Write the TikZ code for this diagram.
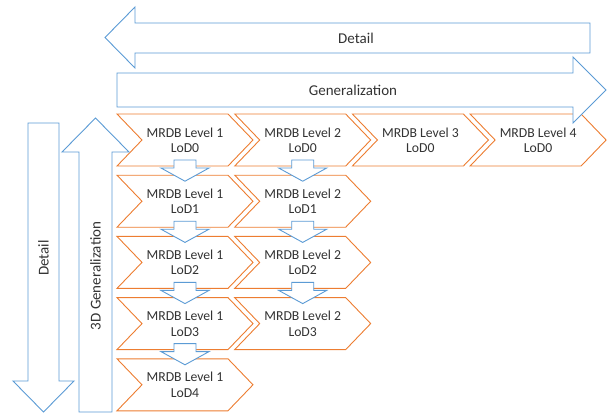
\documentclass[tikz,border=0pt]{standalone}
\usepackage{fontspec}
\setmainfont{Carlito}
\definecolor{line_b}{HTML}{5B9BD5}
\definecolor{line_o}{HTML}{ED7D31}
\definecolor{text_g}{HTML}{333333}
\usetikzlibrary{calc}

\begin{document}
\begin{tikzpicture}[
			x=1pt, y=-1pt,
			blockarrow/.style = {draw=line_b, fill=white, line width=0.9pt},
			chevron/.style = {draw=line_o, fill=white, line width=0.9pt},
			lod/.style = {text=text_g, font=\fontsize{13.7}{15.4}\selectfont, align=center, inner sep=0pt},
			big/.style = {text=text_g, font=\fontsize{15}{17}\selectfont, inner sep=0pt},
			]
			\useasboundingbox (0,0) rectangle (608,413);
			% chevrons
			\foreach \col/\rows in {1/4,2/3,3/0,4/0} {
				\foreach \row in {0,...,\rows} {
					\pgfmathsetmacro{\xl}{117+117.7*(\col-1)}
					\pgfmathsetmacro{\yt}{114+61.2*\row}
					\draw[chevron] (\xl,\yt) -- ++(111,0) -- ++(25,26) -- ++(-25,26) -- ++(-111,0) -- ++(25,-26) -- cycle;
					\node[lod] (c\col\row) at (\xl+68,\yt+26) {MRDB Level \col\\LoD\row};
				}
			}
			% small arrows between levels of detail
			\foreach \col/\rows in {1/3,2/2} {
				\foreach \row [evaluate=\row as \nxt using int(\row+1)] in {0,...,\rows} {
					\draw[blockarrow] ($(c\col\row)+(-11,20)$) -- ++(22,0) -- ++(0,8) -- ++(13,0)
						-- ($(c\col\nxt)+(0,-20)$) -- ($(c\col\row)+(-24,28)$) -- ++(13,0) -- cycle;
				}
			}
			% top arrows
			\draw[blockarrow] (105,37.5) -- (135,7) -- (135,23) -- (590,23) -- (590,53) -- (135,53) -- (135,68) -- cycle;
			\node[big] (detail_h) at (356,38) {Detail};
			\draw[blockarrow] (117,73) -- (573,73) -- (573,57) -- (606,90) -- (573,123) -- (573,107) -- (117,107) -- cycle;
			\node[big] (gen_h) at (353,90) {Generalization};
			% left arrows
			\draw[blockarrow] (28,123) -- (59,123) -- (59,381) -- (74,381) -- (43.5,412) -- (13,381) -- (28,381) -- cycle;
			\node[big, rotate=90] (detail_v) at (43.5,258) {Detail};
			\draw[blockarrow] (95.5,118) -- (129,152) -- (112,152) -- (112,412) -- (79,412) -- (79,152) -- (62,152) -- cycle;
			\node[big, rotate=90] (gen_v) at (95.5,276) {3D Generalization};
		\end{tikzpicture}
\end{document}
